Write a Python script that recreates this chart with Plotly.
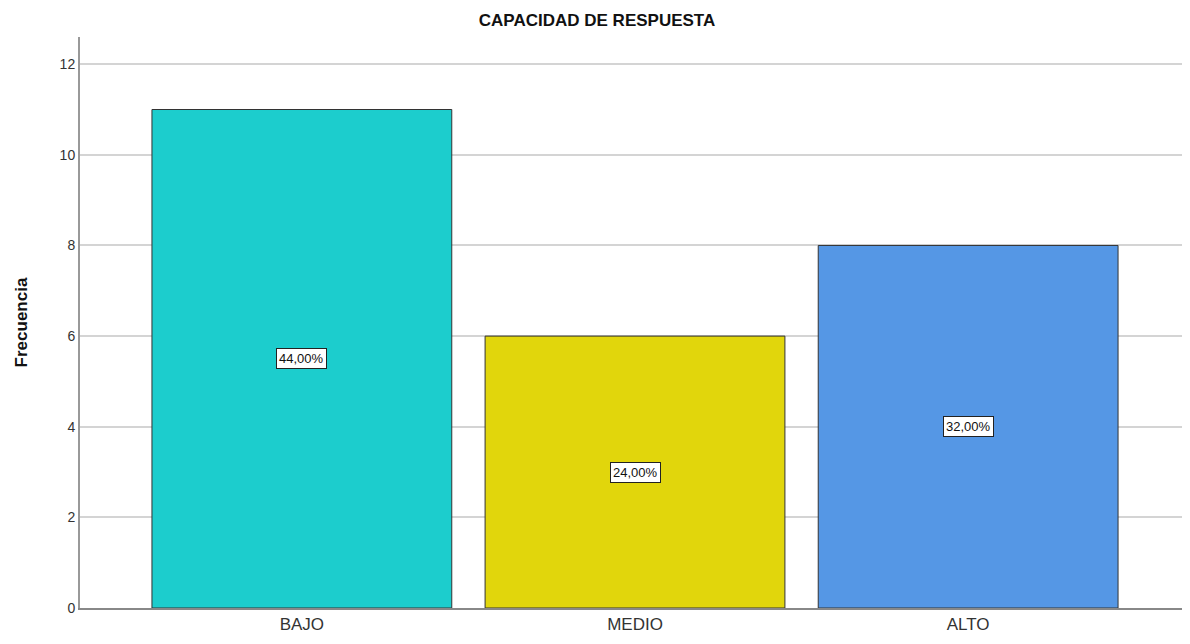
import plotly.graph_objects as go

categorias = ["BAJO", "MEDIO", "ALTO"]
frecuencias = [11, 6, 8]
porcentajes = ["44,00%", "24,00%", "32,00%"]
colores = ["#1ccdcd", "#e1d60c", "#5597e5"]

fig = go.Figure()
fig.add_trace(go.Bar(
    x=categorias,
    y=frecuencias,
    width=0.9,
    marker=dict(color=colores, line=dict(color="#333333", width=1)),
    showlegend=False,
    hoverinfo="x+y",
))

for cat, f, p in zip(categorias, frecuencias, porcentajes):
    fig.add_annotation(
        x=cat, y=f / 2, text=p, showarrow=False,
        font=dict(family="Liberation Sans, Arial", size=13, color="#111111"),
        bgcolor="white", bordercolor="#222222", borderwidth=1, borderpad=2,
    )

# the page body adds an 8px offset, so margins are shifted to compensate
fig.update_layout(
    width=1190,
    height=644,
    margin=dict(l=72, r=0, t=29, b=44),
    paper_bgcolor="white",
    plot_bgcolor="white",
    font=dict(family="Liberation Sans, Arial", color="#222222"),
    title=dict(
        text="<b>CAPACIDAD DE RESPUESTA</b>",
        x=0.495, xref="container", xanchor="center",
        y=0.981, yref="container", yanchor="middle",
        font=dict(size=17, color="#111111"),
    ),
    xaxis=dict(
        range=[-0.666, 2.69],
        showline=True, linecolor="#888888", linewidth=2,
        tickfont=dict(size=17, color="#333333"),
        ticks="", showgrid=False,
    ),
    yaxis=dict(
        range=[0, 12.6],
        dtick=2,
        showline=True, linecolor="#999999", linewidth=2,
        showgrid=True, gridcolor="#d4d4d4", gridwidth=2,
        ticks="", ticklen=0,
        tickfont=dict(size=14, color="#333333"),
        title=dict(text="<b>Frecuencia</b>", font=dict(size=17, color="#111111"), standoff=28),
        zeroline=False,
    ),
    bargap=0.1,
)

fig.write_html("out.html")
